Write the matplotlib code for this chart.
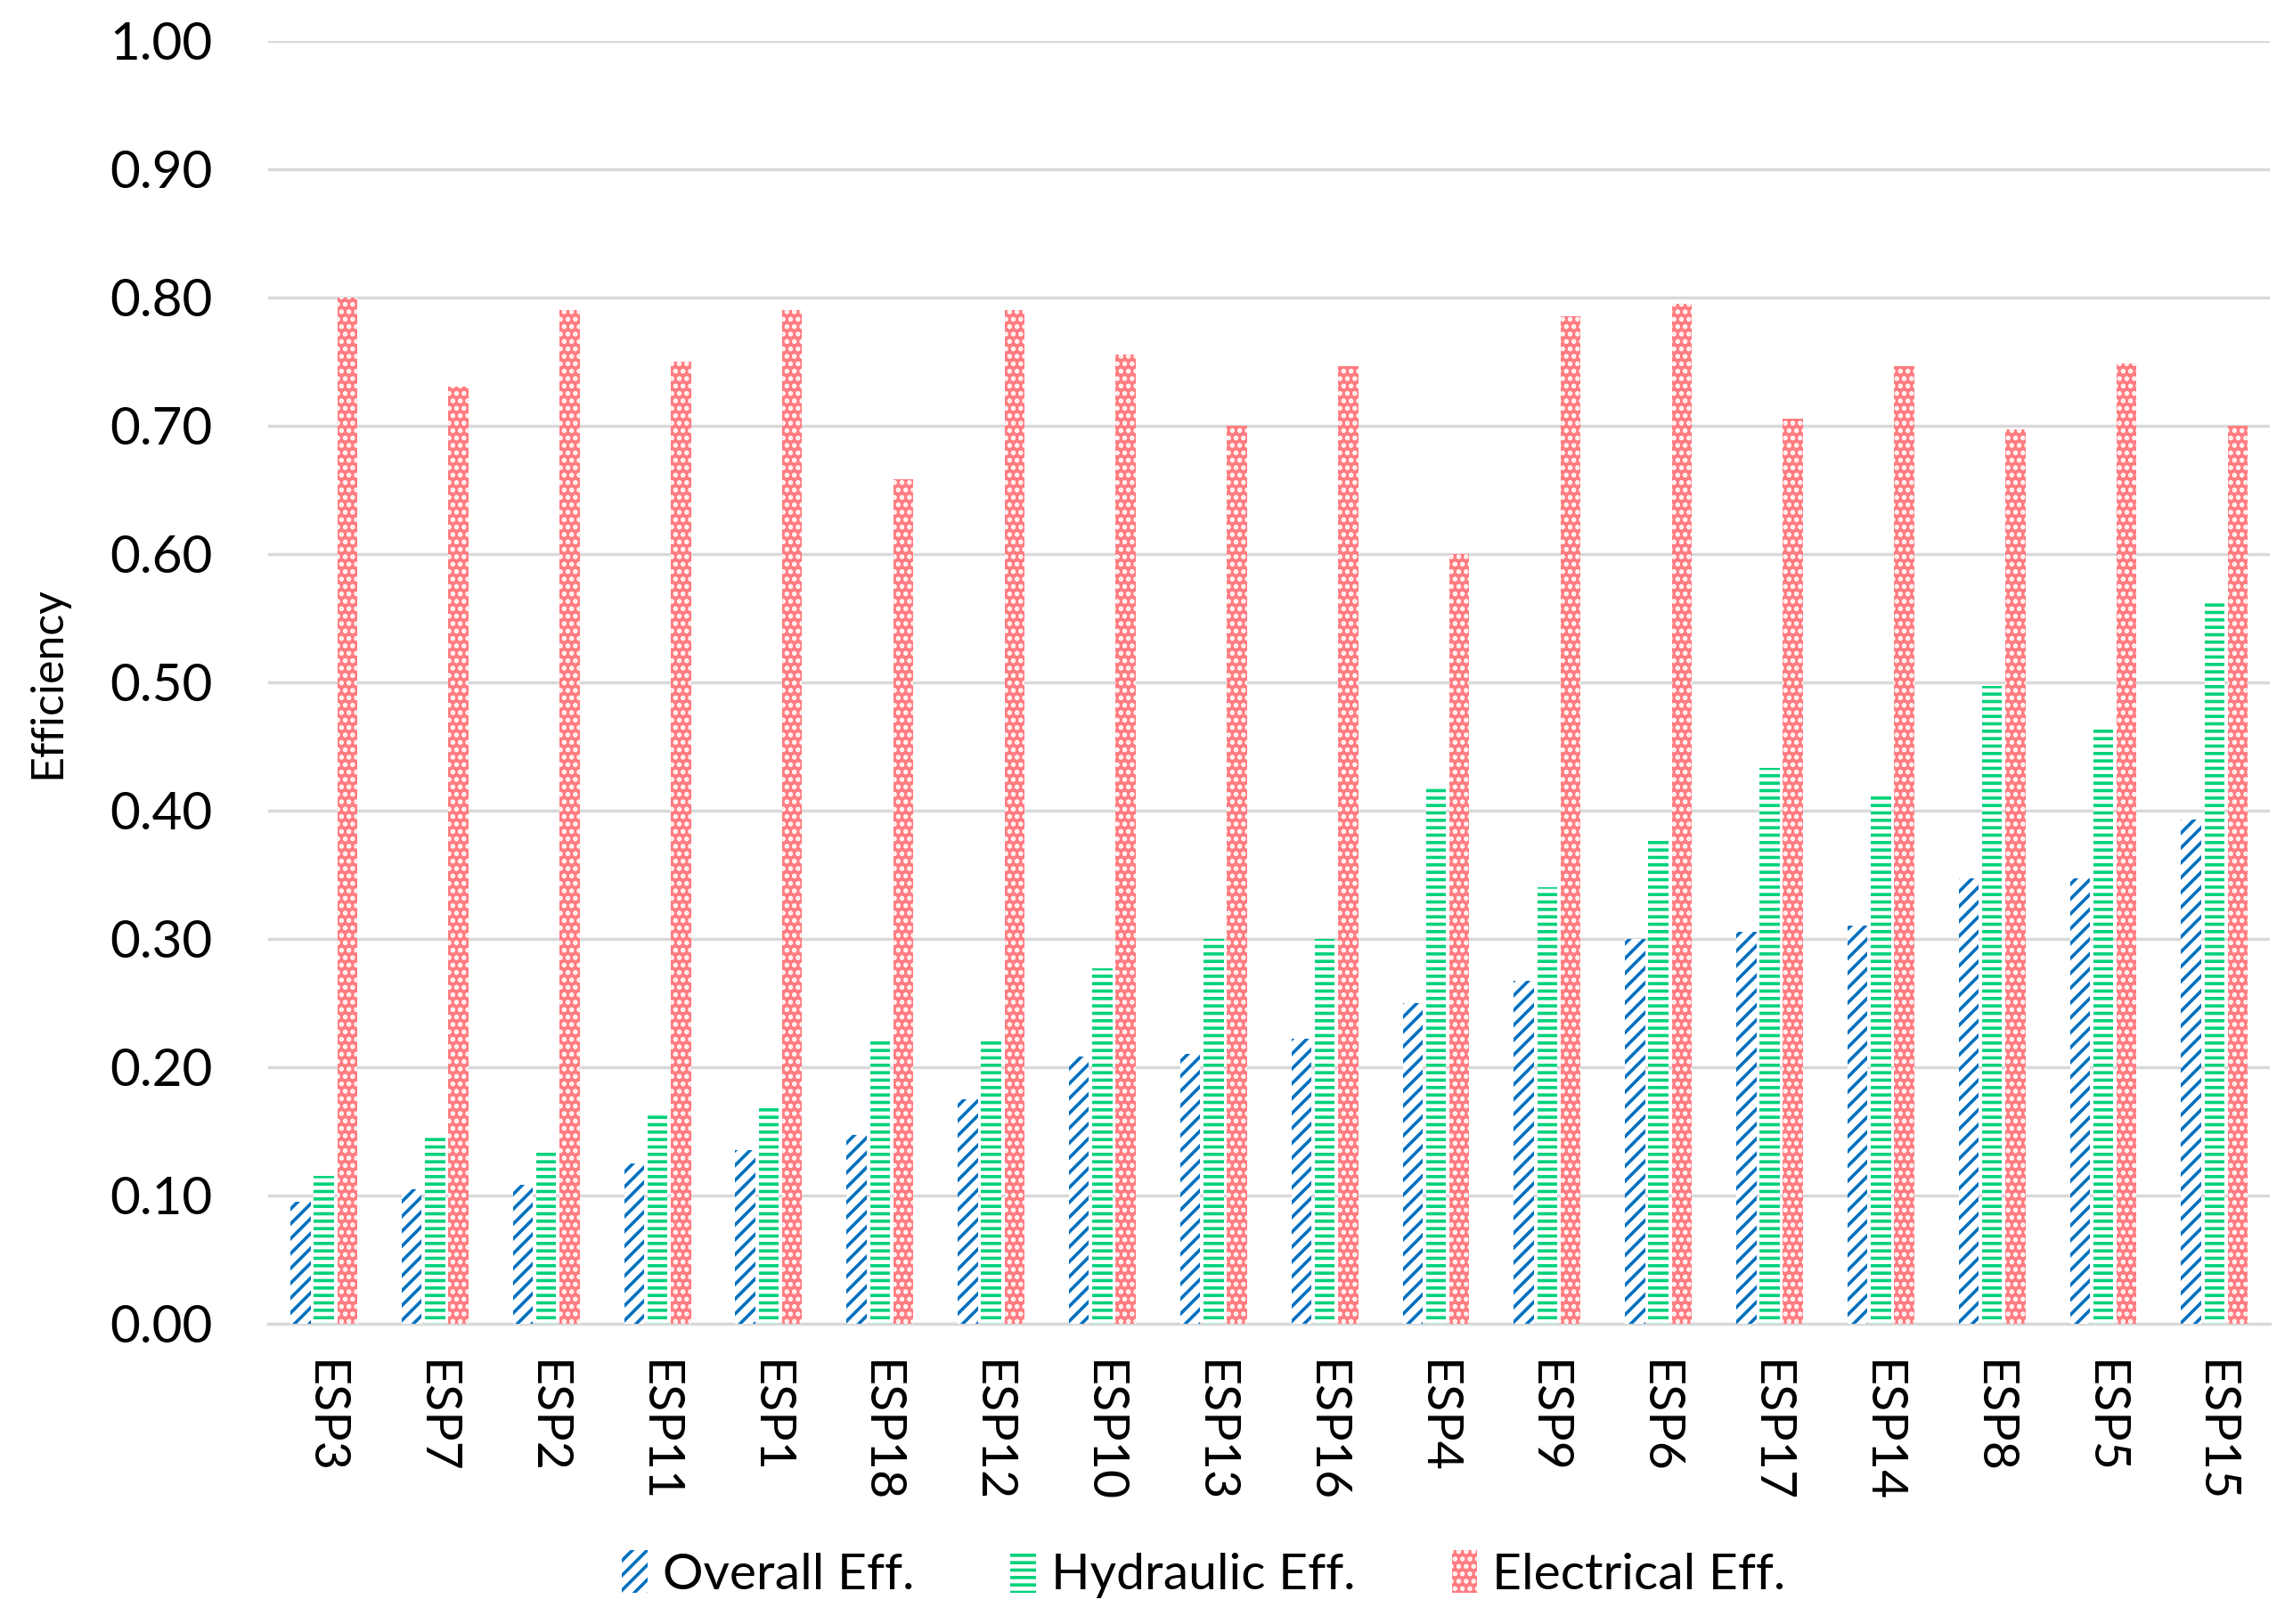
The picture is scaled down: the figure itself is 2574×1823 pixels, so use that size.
import matplotlib.pyplot as plt
import numpy as np

# ---------------- data ----------------
pumps = ["ESP3", "ESP7", "ESP2", "ESP11", "ESP1", "ESP18", "ESP12", "ESP10", "ESP13",
         "ESP16", "ESP4", "ESP9", "ESP6", "ESP17", "ESP14", "ESP8", "ESP5", "ESP15"]

overall = [0.095, 0.105, 0.108, 0.125, 0.135, 0.147, 0.175, 0.208, 0.210,
           0.222, 0.250, 0.267, 0.300, 0.305, 0.310, 0.347, 0.347, 0.393]
hydraulic = [0.115, 0.147, 0.135, 0.165, 0.170, 0.220, 0.220, 0.277, 0.300,
             0.300, 0.420, 0.340, 0.377, 0.433, 0.413, 0.497, 0.463, 0.563]
electrical = [0.800, 0.730, 0.790, 0.750, 0.790, 0.658, 0.790, 0.755, 0.700,
              0.746, 0.600, 0.785, 0.795, 0.705, 0.746, 0.697, 0.748, 0.700]

y_ticks = np.arange(0, 1.01, 0.1)

# ---------------- style ----------------
plt.rcParams['font.family'] = ['Lato', 'DejaVu Sans']
plt.rcParams['hatch.linewidth'] = 2.6

BLUE = "#0070C0"
GREEN = "#00D27A"
RED = "#FF7C80"

fig = plt.figure(figsize=(25.74, 18.23), dpi=100)
ax = fig.add_axes([0.117, 0.185, 0.873, 0.79])

x = np.arange(len(pumps))
w = 0.18
step = 0.21

ax.bar(x - step, overall, w, facecolor="white", edgecolor=BLUE,
       hatch="//", linewidth=0, label="Overall Eff.", zorder=3)
ax.bar(x, hydraulic, w, facecolor="white", edgecolor=GREEN,
       hatch="--", linewidth=0, label="Hydraulic Eff.", zorder=3)
ax.bar(x + step, electrical, w, facecolor=RED, edgecolor="white",
       hatch="..", linewidth=0, label="Electrical Eff.", zorder=3)

ax.set_xlim(-0.5, len(pumps) - 0.5)
ax.set_ylim(0, 1.0)
ax.set_yticks(y_ticks)
ax.set_yticklabels([f"{v:.2f}" for v in y_ticks], fontsize=42)
ax.set_xticks(x)
ax.set_xticklabels(pumps, rotation=270, fontsize=40)
ax.set_ylabel("Efficiency", fontsize=36, labelpad=34)

ax.grid(axis="y", color="#D9D9D9", linewidth=2.5, zorder=0)
for s in ["top", "right", "left"]:
    ax.spines[s].set_visible(False)
ax.spines["bottom"].set_color("#D9D9D9")
ax.spines["bottom"].set_linewidth(2.5)
ax.tick_params(axis="y", length=0, pad=45)
ax.tick_params(axis="x", length=0, pad=30)

fig.legend(loc="lower center", bbox_to_anchor=(0.525, -0.012), ncol=3, frameon=False,
           fontsize=41, handlelength=0.5, handleheight=0.9, handletextpad=0.3,
           columnspacing=1.9)

fig.savefig("out.png", dpi=100)
